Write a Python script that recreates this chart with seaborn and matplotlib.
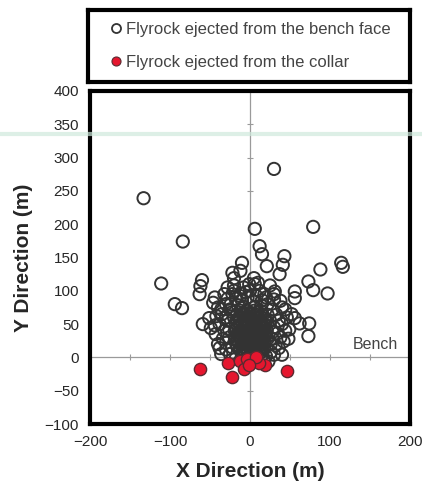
import numpy as np
import pandas as pd
import matplotlib
matplotlib.use('Agg')
import matplotlib.pyplot as plt
import seaborn as sns
from matplotlib.lines import Line2D

sns.set_style('white')
plt.rcParams['font.family'] = ['Liberation Sans', 'DejaVu Sans']

# flyrock ejected from the bench face
bench_x = [
    -133, 30, -84, 6, 79, 12, 15, 43, -10, -12, 114, 116,
    -111, -94, -85, -60, -62, -63, -44, -22, -20, -32, -22, -12, -1,
    21, 41, 37, 88, 73, 79, 97, 56, 56, 31, 30, 5, 6,
    52, 56, 62, 74, 73, 49, 40, 42, -59, -51, -49, -38, -43, 23,
    # ring round the core
    -30, -25, -35, -28, -38, -32, -26, -30, -22, -25, -18, -10, -3, 8, 15, 22,
    28, 33, 36, 30, 34, 28, 32, 26, 20, -15, 18, 25, -8, 12, 40, -40, -20, 25,
    -42, -36, -28, -20, -12, -5, 4, 14, 20, 30, 38, 44, 46, 40, 44, 38,
    36, 30, -34, -40, -30, -36, -26, -44, -22, -30, 22, 28, -20, 0, 10, -28,
    -46, 48, 18, -18, -24, 26, -8, 6,
    # dense core
    -12, -4, 5, 13,
    -16, -8, 0, 8, 16,
    -14, -6, 2, 10, 18,
    -18, -10, -2, 6, 14, 22,
    -15, -7, 1, 9, 17,
    -19, -11, -3, 5, 13, 21,
    -16, -8, 0, 8, 16,
    -18, -10, -2, 6, 14, 22,
    -14, -6, 2, 10, 18,
    -16, -8, 0, 8, 16,
    -12, -4, 4, 12,
    -8, 0, 8, 15,
    -8, 0, 9,
    -12, -3, 5, 13,
    -16, -6, 3, 12, 20,
    -13, -4, 4, 12, 19,
    -17, -8, 2, 10, 18,
    -14, -5, 3, 11, 19,
    -13, -4, 4, 11, 19,
    -16, -7, 1, 9, 16,
    -11, -3, 5, 13,
    -13, -5, 3, 11, 18,
    -10, -2, 6, 13,
]
bench_y = [
    239, 283, 174, 193, 196, 167, 155, 152, 142, 130, 142, 136,
    111, 80, 74, 116, 107, 95, 90, 127, 119, 95, 95, 96, 110,
    137, 139, 125, 132, 114, 101, 96, 99, 89, 99, 87, 119, 110,
    65, 59, 51, 51, 32, 42, 4, 24, 50, 59, 44, 14, 35, -6,
    80, 72, 65, 55, 50, 40, 30, 22, 15, 5, 88, 85, 90, 92, 86, 80,
    72, 64, 55, 45, 36, 28, 18, 8, 2, 78, 95, 108, 105, 100, 75, 75, 60, 55,
    62, 72, 88, 100, 92, 98, 84, 78, 90, 95, 85, 72, 60, 50, 40, 30,
    14, 4, 28, 20, 12, 5, 42, 48, 68, 60, 64, 38, 108, 100, 112, 105,
    82, 28, -4, -2, 80, 20, 76, 76,
    70, 70, 70, 70,
    64, 64, 64, 64, 64,
    58, 58, 58, 58, 58,
    52, 52, 52, 52, 52, 52,
    46, 46, 46, 46, 46,
    40, 40, 40, 40, 40, 40,
    34, 34, 34, 34, 34,
    28, 28, 28, 28, 28, 28,
    22, 22, 22, 22, 22,
    16, 16, 16, 16, 16,
    10, 10, 10, 10,
    4, 4, 4, 4,
    67, 67, 67,
    61, 61, 61, 61,
    55, 55, 55, 55, 55,
    49, 49, 49, 49, 49,
    43, 43, 43, 43, 43,
    37, 37, 37, 37, 37,
    31, 31, 31, 31, 31,
    25, 25, 25, 25, 25,
    19, 19, 19, 19,
    13, 13, 13, 13, 13,
    7, 7, 7, 7,
]

# flyrock ejected from the collar
collar_x = [-63, -28, -22, -12, 2, -7, 19, 11, 46, -4, 7, -1]
collar_y = [-17, -9, -29, -5, -3, -18, -12, -9, -21, -2, 0, -11]

labels = ['Flyrock ejected from the bench face', 'Flyrock ejected from the collar']

bench = pd.DataFrame({'x': bench_x, 'y': bench_y})
collar = pd.DataFrame({'x': collar_x, 'y': collar_y})

fig = plt.figure(figsize=(4.22, 4.91), dpi=100)
ax = fig.add_axes([90 / 422, 1 - 424 / 491, 320 / 422, 333 / 491])

# faint green line across the scan
fig.add_artist(Line2D([0, 1], [1 - 134 / 491] * 2, transform=fig.transFigure,
                      color='#cfe9dc', lw=3, alpha=0.7, zorder=5))

# cross through the origin with small ticks
ax.axvline(0, color='#9a9a9a', lw=0.9, zorder=1)
ax.axhline(0, color='#9a9a9a', lw=0.9, zorder=1)
ax.plot([-150, -100, -50, 50, 100, 150], [0] * 6, ls='none', marker='|',
        ms=4, color='#9a9a9a', mew=0.8, zorder=1)
ax.plot([0] * 6, [-50, 50, 100, 250, 300, 350], ls='none', marker='_',
        ms=4, color='#9a9a9a', mew=0.8, zorder=1)

sns.scatterplot(data=bench, x='x', y='y', ax=ax, s=78, facecolor='none',
                edgecolor='#333333', linewidth=1.4, zorder=2)
sns.scatterplot(data=collar, x='x', y='y', ax=ax, s=78, facecolor='#e5162e',
                edgecolor='#5a2a30', linewidth=1.0, zorder=3)

ax.text(157, 20, 'Bench', fontsize=11.5, color='#444444', ha='center', va='center')

ax.set_xlim(-200, 200)
ax.set_ylim(-100, 400)
ax.set_xticks([-200, -100, 0, 100, 200])
ax.set_yticks(np.arange(-100, 401, 50))
ax.tick_params(length=0, labelsize=11, pad=8)
ax.set_xlabel('X Direction (m)', fontsize=15, fontweight='bold', labelpad=9)
ax.set_ylabel('Y Direction (m)', fontsize=15, fontweight='bold', labelpad=8)
for sp in ax.spines.values():
    sp.set_linewidth(3)
    sp.set_color('black')

# legend in its own boxed panel
lax = fig.add_axes([88 / 422, 1 - 82 / 491, 322 / 422, 72 / 491])
lax.set_xticks([])
lax.set_yticks([])
for sp in lax.spines.values():
    sp.set_linewidth(3)
    sp.set_color('black')
handles = [
    Line2D([], [], ls='none', marker='o', ms=6.5, mfc='none', mec='#333333', mew=1.3),
    Line2D([], [], ls='none', marker='o', ms=6.5, mfc='#e5162e', mec='#5a2a30', mew=0.8),
]
lax.legend(handles, labels, loc='center left', frameon=False, fontsize=12,
           labelcolor='#444444', handletextpad=0.1, labelspacing=1.05,
           handlelength=1.0, borderaxespad=0.8)

plt.savefig('out.png', dpi=100)
